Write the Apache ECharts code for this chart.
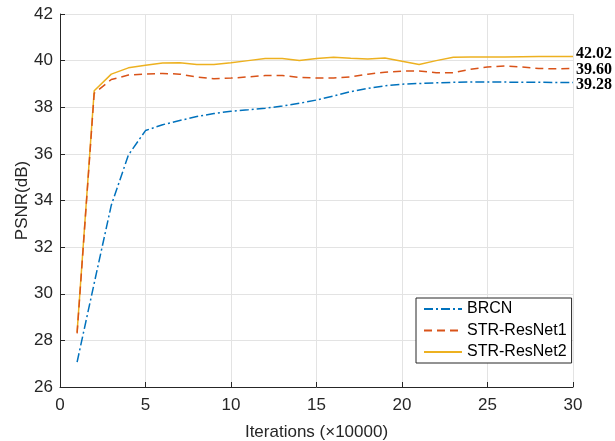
<!DOCTYPE html>
<html><head><meta charset="utf-8">
<script src="https://cdn.jsdelivr.net/npm/echarts@6/dist/echarts.min.js"></script>
<style>html,body{margin:0;padding:0;background:#fff}#c{width:615px;height:441px}</style>
</head><body><div id="c"></div>
<script>
const iterations = [1,2,3,4,5,6,7,8,9,10,11,12,13,14,15,16,17,18,19,20,21,22,23,24,25,26,27,28,29,30];
const brcn = [27.07,30.45,33.8,35.95,37.0,37.25,37.43,37.6,37.73,37.83,37.89,37.96,38.05,38.17,38.31,38.48,38.67,38.81,38.92,38.99,39.02,39.05,39.07,39.08,39.08,39.08,39.07,39.07,39.06,39.06];
const strResNet1 = [28.3,38.6,39.19,39.38,39.42,39.45,39.42,39.3,39.22,39.25,39.3,39.36,39.36,39.28,39.25,39.26,39.3,39.42,39.5,39.55,39.56,39.48,39.48,39.63,39.73,39.77,39.73,39.66,39.65,39.66];
const strResNet2 = [28.35,38.71,39.42,39.69,39.8,39.9,39.91,39.83,39.83,39.91,40.0,40.09,40.09,40.01,40.09,40.14,40.1,40.07,40.11,39.97,39.83,40.0,40.14,40.16,40.16,40.16,40.17,40.18,40.18,40.18];
const seriesNames = ['BRCN','STR-ResNet1','STR-ResNet2'];
const endTexts = ['39.28','39.60','42.02'];
const xTicks = [0,5,10,15,20,25,30];
const yTicks = [26,28,30,32,34,36,38,40,42];

const colors = ['#0072BD','#D95319','#EDB120'];
const dashes = [[9,3,2,3],[8,5],'solid'];
const labelOffsets = [[0,2],[0,1],[0,-3]];
const values = [brcn, strResNet1, strResNet2];

const chart = echarts.init(document.getElementById('c'));
const font = 'Liberation Sans, Arial, sans-serif';
chart.setOption({
  animation: false,
  backgroundColor: '#fff',
  grid: {left: 60, right: 42, top: 14, bottom: 54, outerBoundsMode: 'none', containLabel: false},
  legend: {
    orient: 'vertical', left: 416, top: 298,
    data: seriesNames,
    backgroundColor: '#fff', borderColor: '#262626', borderWidth: 1, borderRadius: 0,
    padding: [3, 5, 3, 7], itemGap: 5.5, itemWidth: 38, itemHeight: 14,
    itemStyle: {opacity: 0},
    textStyle: {fontFamily: font, fontSize: 16, lineHeight: 16, color: '#000'}
  },
  xAxis: {
    type: 'value', min: 0, max: 30, interval: 5,
    name: 'Iterations (\u00d710000)', nameLocation: 'middle', nameGap: 37, nameMoveOverlap: false,
    nameTextStyle: {fontFamily: font, fontSize: 17, color: '#262626'},
    axisLine: {show: true, lineStyle: {color: '#262626', width: 1}},
    axisTick: {show: true, inside: true, length: 5, lineStyle: {color: '#262626'}},
    axisLabel: {fontFamily: font, fontSize: 17, color: '#262626', margin: 10,
      formatter: v => xTicks.includes(v) ? String(v) : ''},
    splitLine: {show: true, lineStyle: {color: '#e3e3e3', width: 1}}
  },
  yAxis: {
    type: 'value', min: 26, max: 42, interval: 2,
    name: 'PSNR(dB)', nameLocation: 'middle', nameGap: 29, nameRotate: 90, nameMoveOverlap: false,
    nameTextStyle: {fontFamily: font, fontSize: 17, color: '#262626'},
    axisLine: {show: true, lineStyle: {color: '#262626', width: 1}},
    axisTick: {show: true, inside: true, length: 5, lineStyle: {color: '#262626'}},
    axisLabel: {fontFamily: font, fontSize: 17, color: '#262626', margin: 7,
      formatter: v => yTicks.includes(v) ? String(v) : ''},
    splitLine: {show: true, lineStyle: {color: '#e3e3e3', width: 1}}
  },
  series: seriesNames.map((n, i) => ({
    name: n, type: 'line', symbol: 'none',
    data: iterations.map((x, k) => [x, values[i][k]]),
    lineStyle: {color: colors[i], width: 1.5, type: dashes[i]},
    itemStyle: {color: colors[i]},
    z: 3 - i + 2,
    endLabel: {show: true, formatter: () => endTexts[i], distance: 3, offset: labelOffsets[i],
      fontFamily: 'Liberation Serif, Times New Roman, serif', fontWeight: 'bold', fontSize: 16, color: '#000'}
  }))
});
</script></body></html>
